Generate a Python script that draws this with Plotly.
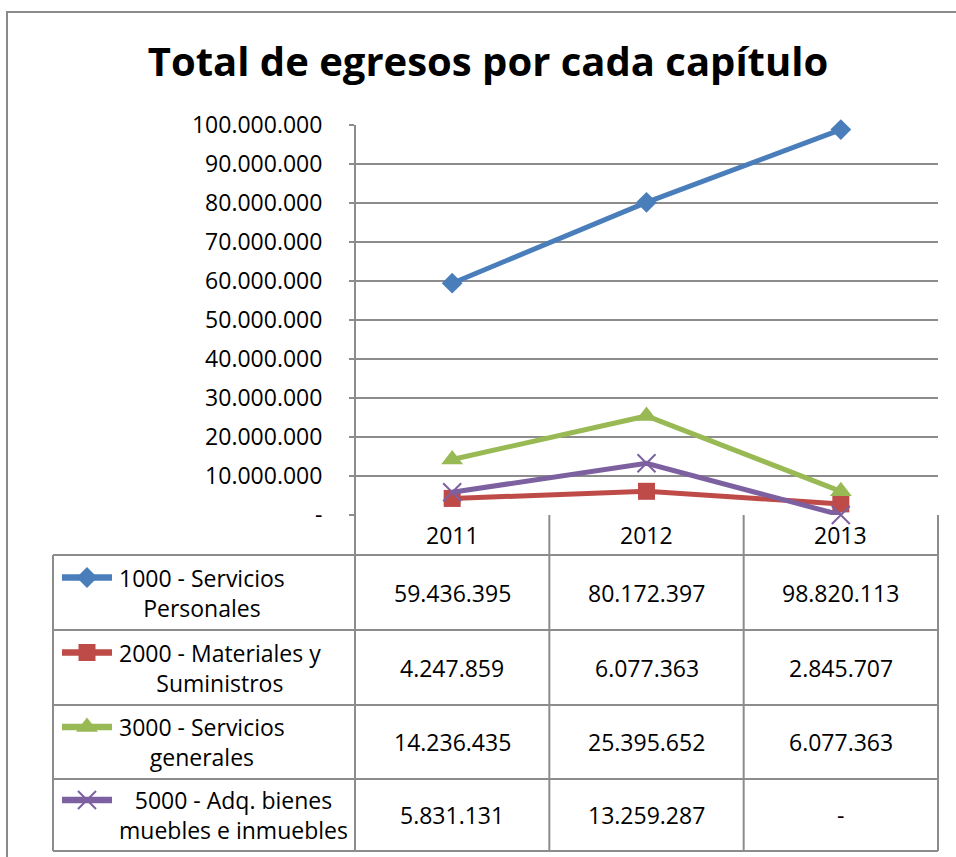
import plotly.graph_objects as go

# Datos
years = ["2011", "2012", "2013"]
series_names = [
    "1000 - Servicios<br>Personales",
    "2000 - Materiales y<br>Suministros",
    "3000 - Servicios<br>generales",
    "5000 - Adq. bienes<br>muebles e inmuebles",
]
servicios_personales = [59436395, 80172397, 98820113]
materiales_suministros = [4247859, 6077363, 2845707]
servicios_generales = [14236435, 25395652, 6077363]
adq_bienes = [5831131, 13259287, 0]
y_ticks = [0, 10000000, 20000000, 30000000, 40000000, 50000000,
           60000000, 70000000, 80000000, 90000000, 100000000]

SERIES = [servicios_personales, materiales_suministros, servicios_generales, adq_bienes]
COLORS = ["#4A7EBB", "#BE4B48", "#98B954", "#7D60A0"]
MARKERS = [
    dict(symbol="diamond", size=16),
    dict(symbol="square", size=17),
    dict(symbol="triangle-up", size=19),
    dict(symbol="x-thin", size=18, line=dict(width=2)),
]

W, H = 956, 857
PLOT_L, PLOT_R = 355, 938
Y_TOP, Y_ZERO = 125, 515
TABLE_L = 53
ROWS = [555, 630, 705, 779, 851]
GRID = "#8C8C8C"
FONT = "Open Sans, Noto Sans, sans-serif"


def fmt(v):
    return "-" if v == 0 else f"{v:,.0f}".replace(",", ".")


def marker_for(mk, color):
    m = dict(mk)
    m["color"] = color
    if "line" in m:
        m["line"] = dict(m["line"], color=color)
    return m


fig = go.Figure()

for vals, name, color, mk in zip(SERIES, series_names, COLORS, MARKERS):
    fig.add_trace(go.Scatter(
        x=years, y=vals, name=name, mode="lines+markers",
        line=dict(color=color, width=5), marker=marker_for(mk, color),
        showlegend=False, cliponaxis=False, hoverinfo="x+y",
    ))

# tabla de datos (ejes en pixeles)
shapes = []
annotations = []
col_w = (PLOT_R - PLOT_L) / len(years)
col_x = [PLOT_L + i * col_w for i in range(len(years) + 1)]

line = dict(color=GRID, width=2)
shapes.append(dict(type="line", xref="x2", yref="y2", x0=PLOT_L, x1=PLOT_L, y0=Y_TOP, y1=ROWS[-1], line=line))
for x in col_x[1:]:
    shapes.append(dict(type="line", xref="x2", yref="y2", x0=x, x1=x, y0=Y_ZERO, y1=ROWS[-1], line=line))
shapes.append(dict(type="line", xref="x2", yref="y2", x0=TABLE_L, x1=TABLE_L, y0=ROWS[0], y1=ROWS[-1], line=line))
for y in ROWS:
    shapes.append(dict(type="line", xref="x2", yref="y2", x0=TABLE_L, x1=PLOT_R, y0=y, y1=y, line=line))
# marco exterior
shapes.append(dict(type="rect", xref="x2", yref="y2", x0=7, x1=W + 10, y0=12, y1=H + 10,
                   line=dict(color="#8A8A8A", width=2)))

for i, yr in enumerate(years):
    annotations.append(dict(xref="x2", yref="y2", x=(col_x[i] + col_x[i + 1]) / 2, y=(Y_ZERO + ROWS[0]) / 2,
                            text=yr, showarrow=False, font=dict(size=23, color="black")))

for r, (vals, name, color, mk) in enumerate(zip(SERIES, series_names, COLORS, MARKERS)):
    yc = (ROWS[r] + ROWS[r + 1]) / 2
    for i, v in enumerate(vals):
        annotations.append(dict(xref="x2", yref="y2", x=(col_x[i] + col_x[i + 1]) / 2, y=yc,
                                text=fmt(v), showarrow=False, font=dict(size=23, color="black")))
    annotations.append(dict(xref="x2", yref="y2", x=117, y=yc, xanchor="left", align="center",
                            text=name, showarrow=False, font=dict(size=23, color="black")))
    ky = yc - 15
    shapes.append(dict(type="line", xref="x2", yref="y2", x0=62, x1=112, y0=ky, y1=ky,
                       line=dict(color=color, width=6.5)))
    fig.add_trace(go.Scatter(x=[87], y=[ky], xaxis="x2", yaxis="y2", mode="markers",
                             marker=marker_for(mk, color), showlegend=False, hoverinfo="skip"))

fig.update_layout(
    width=W, height=H, autosize=False,
    margin=dict(l=0, r=0, t=0, b=0, pad=0, autoexpand=False),
    paper_bgcolor="white", plot_bgcolor="rgba(0,0,0,0)",
    font=dict(family=FONT, size=23, color="black"),
    title=dict(text="<b>Total de egresos por cada capítulo</b>", x=488 / W, y=1 - 62 / H,
               xanchor="center", yanchor="middle",
               font=dict(family=FONT, size=40, color="black")),
    xaxis=dict(domain=[PLOT_L / W, PLOT_R / W], type="category", range=[-0.5, 2.5], automargin=False,
               showticklabels=False, showgrid=False, zeroline=False, showline=False, fixedrange=True),
    yaxis=dict(domain=[1 - Y_ZERO / H, 1 - Y_TOP / H], range=[0, 100000000], automargin=False,
               tickvals=y_ticks, ticktext=[fmt(v) for v in y_ticks],
               showgrid=True, gridcolor=GRID, gridwidth=2, zeroline=False, showline=False,
               ticks="outside", ticklen=5, tickcolor=GRID, tickwidth=2,
               ticklabelstandoff=22, tickfont=dict(size=23, color="black"), fixedrange=True),
    xaxis2=dict(domain=[0, 1], range=[0, W], visible=False, anchor="y2", automargin=False, fixedrange=True),
    yaxis2=dict(domain=[0, 1], range=[H, 0], visible=False, anchor="x2", automargin=False, fixedrange=True),
    shapes=shapes,
    annotations=annotations,
)

fig.write_html("out.html", config={"displayModeBar": False},
               post_script="document.body.style.margin='0';")
